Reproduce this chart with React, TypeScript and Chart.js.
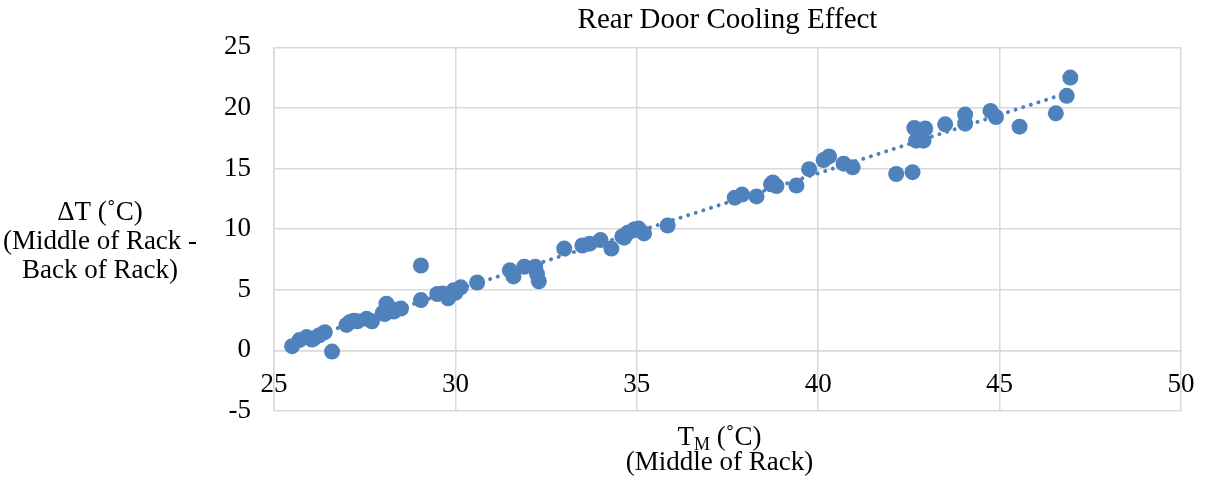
import React, { useEffect, useRef } from "react";
import { Chart, registerables } from "chart.js";

Chart.register(...registerables);

// ---- data ----
const xValues = [
  25.5, 25.7, 25.9, 26.05, 26.1, 26.25, 26.4, 26.6, 27.0, 27.1, 27.2, 27.3, 27.55, 27.7,
  28.0, 28.05, 28.1, 28.3, 28.35, 28.5, 29.05, 29.05, 29.5, 29.65, 29.8, 29.95, 30.0,
  30.15, 30.6, 31.5, 31.6, 31.9, 32.2, 32.25, 32.3, 33.0, 33.5, 33.7, 34.0, 34.3, 34.6,
  34.65, 34.75, 34.9, 34.95, 35.05, 35.2, 35.85, 37.7, 37.9, 38.3, 38.7, 38.75, 38.85,
  39.4, 39.75, 40.15, 40.3, 40.7, 40.95, 42.15, 42.6, 42.65, 42.95, 42.7, 42.9, 43.5,
  44.05, 44.05, 44.75, 44.9, 45.55, 46.55, 46.85, 46.95,
];
const yValues = [
  0.35, 0.85, 1.1, 0.9, 1.0, 1.25, 1.5, -0.1, 2.1, 2.35, 2.45, 2.4, 2.6, 2.4,
  3.1, 3.0, 3.85, 3.2, 3.35, 3.45, 4.15, 7.0, 4.65, 4.7, 4.3, 4.95, 4.75,
  5.2, 5.6, 6.6, 6.1, 6.9, 6.9, 6.3, 5.7, 8.4, 8.65, 8.8, 9.1, 8.4, 9.4,
  9.3, 9.7, 9.9, 10.0, 10.05, 9.65, 10.3, 12.6, 12.85, 12.7, 13.7, 13.85, 13.55,
  13.6, 14.95, 15.7, 16.0, 15.4, 15.1, 14.55, 14.7, 18.35, 18.3, 17.3, 17.3, 18.65,
  19.45, 18.7, 19.75, 19.25, 18.45, 19.55, 21.0, 22.5,
];
const xTicks = [25, 30, 35, 40, 45, 50];
const yTicks = [-5, 0, 5, 10, 15, 20, 25];

const chartTitle = "Rear Door Cooling Effect";
const yTitleLines = ["ΔT (˚C)", "(Middle of Rack -", "Back of Rack)"];
const xTitleMain = "T";
const xTitleSub = "M";
const xTitleRest = " (˚C)";
const xTitleLine2 = "(Middle of Rack)";

const BLUE = "#4F81BD";
const GRID = "#d9d9d9";
const FONT = "'Liberation Serif', 'Times New Roman', serif";

function linearFit(xs: number[], ys: number[]) {
  const n = xs.length;
  let sx = 0, sy = 0, sxx = 0, sxy = 0;
  for (let i = 0; i < n; i++) {
    sx += xs[i];
    sy += ys[i];
    sxx += xs[i] * xs[i];
    sxy += xs[i] * ys[i];
  }
  const b = (n * sxy - sx * sy) / (n * sxx - sx * sx);
  const a = (sy - b * sx) / n;
  return { a, b };
}

const titlesPlugin = {
  id: "customTitles",
  afterDraw(chart: any) {
    const ctx = chart.ctx as CanvasRenderingContext2D;
    const area = chart.chartArea;
    ctx.save();
    ctx.fillStyle = "#000";
    ctx.textBaseline = "alphabetic";

    // x title with subscript
    const big = `27px ${FONT}`;
    const small = `18px ${FONT}`;
    ctx.font = big;
    const wT = ctx.measureText(xTitleMain).width;
    const wRest = ctx.measureText(xTitleRest).width;
    ctx.font = small;
    const wM = ctx.measureText(xTitleSub).width;
    const cx = (area.left + area.right) / 2 - 8;
    const start = cx - (wT + wM + wRest) / 2;
    const base1 = area.bottom + 34;
    ctx.textAlign = "left";
    ctx.font = big;
    ctx.fillText(xTitleMain, start, base1);
    ctx.font = small;
    ctx.fillText(xTitleSub, start + wT, base1 + 5);
    ctx.font = big;
    ctx.fillText(xTitleRest, start + wT + wM, base1);
    ctx.textAlign = "center";
    ctx.fillText(xTitleLine2, cx, area.bottom + 59);

    // y title (horizontal, left)
    const yc = 100;
    const baselines = [220, 249, 278];
    yTitleLines.forEach((t, i) => ctx.fillText(t, yc, baselines[i]));
    ctx.restore();
  },
};

export default function App() {
  const ref = useRef<HTMLCanvasElement | null>(null);

  useEffect(() => {
    if (!ref.current) return;
    const points = xValues.map((x, i) => ({ x, y: yValues[i] }));
    const { a, b } = linearFit(xValues, yValues);
    const minX = Math.min(...xValues);
    const maxX = Math.max(...xValues);
    const trend = [
      { x: minX, y: a + b * minX },
      { x: maxX, y: a + b * maxX },
    ];

    const chart = new Chart(ref.current, {
      type: "scatter",
      data: {
        datasets: [
          {
            label: "Linear trend",
            data: trend,
            showLine: true,
            borderColor: BLUE,
            borderWidth: 4,
            borderDash: [0.001, 8],
            borderCapStyle: "round",
            pointRadius: 0,
            pointHoverRadius: 0,
            fill: false,
          } as any,
          {
            label: "ΔT",
            data: points,
            backgroundColor: BLUE,
            borderColor: BLUE,
            borderWidth: 0,
            pointRadius: 8,
            pointHoverRadius: 8,
          },
        ],
      },
      options: {
        responsive: false,
        animation: false,
        layout: { padding: { top: 0, right: 24, bottom: 68, left: 0 } },
        plugins: {
          legend: { display: false },
          tooltip: { enabled: false },
          title: {
            display: true,
            text: chartTitle,
            fullSize: false,
            color: "#000",
            font: { family: FONT, size: 29, weight: "normal" },
            padding: { top: 3, bottom: 9.5 },
          },
        },
        scales: {
          x: {
            type: "linear",
            position: { y: 0 } as any,
            min: 25,
            max: 50,
            afterBuildTicks: (scale: any) => {
              scale.ticks = xTicks.map((v) => ({ value: v }));
            },
            afterFit: (scale: any) => {
              scale.paddingLeft = 0;
              scale.paddingRight = 0;
            },
            ticks: {
              color: "#000",
              font: { family: FONT, size: 27 },
              padding: 18,
              maxRotation: 0,
            },
            grid: { color: GRID, lineWidth: 1.5, drawTicks: false },
            border: { color: GRID, width: 1.5 },
          },
          y: {
            type: "linear",
            min: -5,
            max: 25,
            afterBuildTicks: (scale: any) => {
              scale.ticks = yTicks.map((v) => ({ value: v }));
            },
            afterFit: (scale: any) => {
              scale.width = 274;
            },
            ticks: {
              color: "#000",
              font: { family: FONT, size: 27 },
              padding: 23,
            },
            grid: { color: GRID, lineWidth: 1.5, drawTicks: false },
            border: { color: GRID, width: 1.5 },
          },
        },
      },
      plugins: [titlesPlugin],
    });
    return () => chart.destroy();
  }, []);

  return (
    <div style={{ position: "fixed", left: 0, top: 0, width: 1205, height: 479, background: "#fff" }}>
      <canvas ref={ref} width={1205} height={479} style={{ display: "block" }} />
    </div>
  );
}
